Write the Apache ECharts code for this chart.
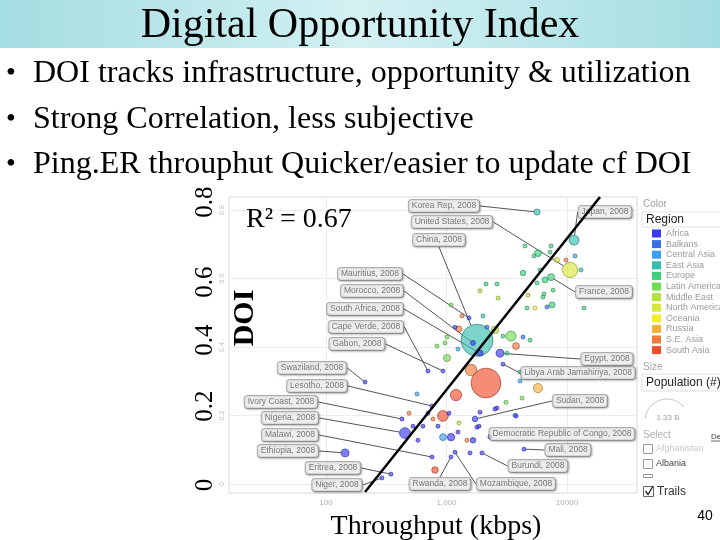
<!DOCTYPE html>
<html><head><meta charset="utf-8">
<script src="https://cdn.jsdelivr.net/npm/echarts@6/dist/echarts.min.js"></script>
<style>html,body{margin:0;padding:0;background:#fff}#c{width:720px;height:540px}</style>
</head><body><div id="c"></div>
<script>
// ---------- data ----------
const regions = ['Africa','Balkans','Central Asia','East Asia','Europe','Latin America','Middle East','North America','Oceania','Russia','S.E. Asia','South Asia'];
// [throughput kbps, DOI, population (millions), label]
const africa = [
  [1538,0.485,1.3,'Mauritius'],[1660,0.412,31,'Morocco'],[1897,0.382,48,'South Africa'],
  [702,0.330,0.5,'Cape Verde'],[935,0.330,1.4,'Gabon'],[211,0.298,1.1,'Swaziland'],
  [758,0.228,2,'Lesotho'],[427,0.190,20,'Ivory Coast'],[452,0.149,151,'Nigeria'],
  [758,0.079,14,'Malawi'],[144,0.091,80,'Ethiopia'],[346,0.029,5,'Eritrea'],[291,0.018,14,'Niger'],
  [2780,0.382,80,'Egypt'],[2944,0.350,6,'Libya Arab Jamahiriya'],[1724,0.190,40,'Sudan'],
  [2296,0.137,10,'Democratic Republic of Congo'],[4395,0.102,12,'Mali'],[1971,0.091,8,'Burundi'],
  [1177,0.093,21,'Mozambique'],[1090,0.079,10,'Rwanda'],
  [1177,0.458,5,''],[702,0.207,4,''],[1049,0.207,4,''],[1897,0.210,4,''],[2625,0.222,4,''],
  [3775,0.199,4,''],[1791,0.166,5,''],[1660,0.128,40,''],[527,0.169,4,''],[638,0.169,4,''],
  [850,0.169,4,''],[1090,0.137,70,''],[1246,0.152,5,''],[1567,0.091,4,''],[580,0.128,4,''],
  [1862,0.169,4,''],[2525,0.219,4,'']
];
const balkans = [[6825,0.517,5,''],[2168,0.458,4,''],[4315,0.429,5,'']];
const centralAsia = [[11650,0.666,7,''],[1246,0.394,4,''],[569,0.263,4,''],[3700,0.201,4,''],[4074,0.301,4,''],[935,0.137,60,'']];
const eastAsia = [[5640,0.794,48,'Korea Rep'],[11430,0.712,127,'Japan'],[1791,0.420,1330,'China'],[13060,0.625,7,''],[2009,0.491,4,''],[4074,0.327,4,'']];
const europe = [
  [7365,0.604,62,'France'],[4480,0.695,5,''],[5745,0.674,60,''],[7365,0.695,5,''],[5320,0.666,5,''],
  [7225,0.677,10,''],[6565,0.596,45,''],[4315,0.616,40,''],[5640,0.587,8,''],[7655,0.566,6,''],
  [6320,0.546,5,''],[7515,0.523,45,''],[4655,0.514,4,''],[13840,0.514,5,''],[2128,0.584,4,''],
  [2625,0.584,4,''],[6440,0.555,5,''],[5970,0.625,4,''],[2944,0.432,5,''],[4932,0.420,5,''],[3177,0.382,5,'']
];
const latinAmerica = [[1090,0.523,5,''],[1009,0.429,5,''],[3430,0.432,130,''],[834,0.403,4,''],[972,0.412,4,''],[1009,0.368,65,''],[3118,0.239,4,''],[4235,0.251,4,'']];
const middleEast = [[1897,0.564,4,''],[2675,0.543,4,''],[4745,0.552,4,''],[2525,0.450,72,''],[1270,0.178,4,'']];
const northAmerica = [[10590,0.625,304,'United States'],[8260,0.654,33,'']];
const oceania = [[5420,0.514,4,'']];
const russia = [[5745,0.280,110,'']];
const seAsia = [[9810,0.654,5,''],[1345,0.491,5,''],[1270,0.453,45,''],[3775,0.403,60,''],[1596,0.333,170,''],[773,0.190,15,''],[489,0.207,5,''],[1479,0.128,4,'']];
const southAsia = [[2128,0.295,1150,''],[1199,0.260,165,''],[935,0.199,150,''],[803,0.041,55,'']];
const fitLine = [[211,-0.023],[18790,0.838]];
const xTickValues = [100,1000,10000];
const xTickLabels = ['100','1,000','10000'];
const yTickValues = [0,0.2,0.4,0.6,0.8];
const yTickLabels = ['0','0.2','0.4','0.6','0.8'];
const bullets = ['DOI tracks infrastructure, opportunity & utilization','Strong Correlation, less subjective','Ping.ER throuphut Quicker/easier to update cf DOI'];

// ---------- layout / style ----------
const regionColors = ['#3a3af2','#3a6ee6','#3a9ff0','#35bdb0','#3ad27c','#70de55','#b2e43a','#d9e63a','#f6ec2e','#f6ae3a','#f27a3a','#ef4e2c'];
const regionData = [africa,balkans,centralAsia,eastAsia,europe,latinAmerica,middleEast,northAmerica,oceania,russia,seAsia,southAsia];
const drawOrder = [11,3,7,10,5,9,6,4,8,2,1,0];
const labelPos = {
  'Korea Rep':[444,206],'United States':[452,222],'China':[439,240],'Japan':[605,212],'France':[604,292],
  'Mauritius':[370,274],'Morocco':[372,291],'South Africa':[365,309],'Cape Verde':[366,327],'Gabon':[357,344],
  'Swaziland':[312,368],'Lesotho':[317,386],'Ivory Coast':[281,402],'Nigeria':[290,418],'Malawi':[290,435],
  'Ethiopia':[288,451],'Eritrea':[333,468],'Niger':[337,485],'Egypt':[607,359],'Libya Arab Jamahiriya':[578,373],
  'Sudan':[580,401],'Democratic Republic of Congo':[562,434],'Mali':[568,450],'Burundi':[538,466],
  'Rwanda':[440,484],'Mozambique':[516,484]
};
const outerY = [485,406,340,282,202];
const SERIF = '"Liberation Serif","Times New Roman",serif';
const SANS = '"Liberation Sans",Arial,sans-serif';

function darken(hex){
  const n = parseInt(hex.slice(1),16);
  const r = Math.round(((n>>16)&255)*0.65), g = Math.round(((n>>8)&255)*0.65), b = Math.round((n&255)*0.65);
  return 'rgb('+r+','+g+','+b+')';
}

const chart = echarts.init(document.getElementById('c'), null, {renderer:'canvas'});

const series = drawOrder.map(i => ({
  type:'scatter', name: regions[i],
  data: regionData[i].slice().sort((a,b)=>b[2]-a[2]).map(d => ({
    name: d[3], value:[d[0],d[1],d[2]], label:{show: !!d[3]}
  })),
  symbolSize: v => Math.max(4, 32*Math.sqrt(v[2]/1330)),
  itemStyle:{color: regionColors[i], opacity:0.65, borderColor: darken(regionColors[i]), borderWidth:1},
  label:{show:false, formatter: p => p.name + ', 2008', fontSize:8.5, fontFamily:SANS, color:'#333',
    backgroundColor:'#fff', borderColor:'#8a8a8a', borderWidth:1, borderRadius:3, padding:[2,3,1,3],
    shadowColor:'rgba(0,0,0,0.3)', shadowBlur:2, shadowOffsetX:1, shadowOffsetY:1},
  labelLine:{show:true, lineStyle:{color:'#555', width:1}},
  labelLayout: p => {
    const pos = labelPos[p.text.replace(', 2008','')];
    return pos ? {x:pos[0], y:pos[1], align:'center', verticalAlign:'middle', hideOverlap:false} : {};
  },
  emphasis:{disabled:true}, silent:true, z:2
}));
series.push({type:'line', name:'fit', data: fitLine, symbol:'none', lineStyle:{color:'#000', width:2.5}, z:10, silent:true});

function txt(x,y,text,font,fill,align,vAlign,rot,z){
  return {type:'text', x:x, y:y, rotation: rot||0, z: z||100,
    style:{text:text, font:font, fill:fill, textAlign:align||'left', align:align||'left',
      textVerticalAlign:vAlign||'middle', verticalAlign:vAlign||'middle'}};
}
const g = [];
g.push({type:'rect', shape:{x:0,y:0,width:720,height:48}, z:1,
  style:{fill:{type:'linear',x:0,y:0,x2:1,y2:0,colorStops:[{offset:0,color:'#a4dde2'},{offset:0.5,color:'#d3f1f3'},{offset:1,color:'#a4dde2'}]}}});
g.push(txt(360,26,'Digital Opportunity Index','42px '+SERIF,'#000','center'));
bullets.forEach((b,k)=>{
  g.push(txt(6,74+k*45.5,'•','28px '+SERIF,'#000','left'));
  g.push(txt(33,74+k*45.5,b,'32px '+SERIF,'#000','left'));
});
yTickLabels.forEach((t,k)=> g.push(txt(205,outerY[k],t,'25px '+SERIF,'#000','center','middle',Math.PI/2)));
g.push(txt(245,318,'DOI','bold 30px '+SERIF,'#000','center','middle',Math.PI/2));
g.push(txt(246,220,'R² = 0.67','28px '+SERIF,'#000','left'));
g.push(txt(436,527,'Throughput (kbps)','28px '+SERIF,'#000','center'));
g.push(txt(705,516,'40','14px '+SANS,'#000','center'));
// right control panel
g.push(txt(643,204,'Color','10px '+SANS,'#a0a0a0','left'));
g.push({type:'rect', shape:{x:642,y:212,width:80,height:15}, z:90, style:{fill:'#fff', stroke:'#e0e0e0'}});
g.push(txt(646,220,'Region','12px '+SANS,'#222','left'));
g.push(txt(643,367,'Size','10px '+SANS,'#a0a0a0','left'));
g.push({type:'rect', shape:{x:642,y:374,width:80,height:17}, z:90, style:{fill:'#fff', stroke:'#e0e0e0'}});
g.push(txt(646,383,'Population (#)','12px '+SANS,'#222','left'));
g.push({type:'arc', shape:{cx:667,cy:421,r:22,startAngle:Math.PI*1.03,endAngle:Math.PI*1.78}, z:90, style:{stroke:'#c8c8c8', fill:null, lineWidth:1}});
g.push(txt(668,418,'1.33 B','8px '+SANS,'#a0a0a0','center'));
g.push(txt(643,435,'Select','10px '+SANS,'#b0b0b0','left'));
g.push(txt(711,437,'De','8px '+SANS,'#444','left'));
g.push({type:'line', shape:{x1:711,y1:441,x2:722,y2:441}, z:90, style:{stroke:'#444', lineWidth:0.8}});
g.push({type:'rect', shape:{x:643.5,y:444.5,width:9,height:9}, z:90, style:{fill:'#fff', stroke:'#999'}});
g.push(txt(656,449,'Afghanistan','9px '+SANS,'#c8c8c8','left'));
g.push({type:'rect', shape:{x:643.5,y:459.5,width:9,height:9}, z:90, style:{fill:'#fff', stroke:'#999'}});
g.push(txt(656,464,'Albania','9px '+SANS,'#444','left'));
g.push({type:'rect', shape:{x:643.5,y:474.5,width:9,height:3}, z:90, style:{fill:'#fff', stroke:'#999'}});
g.push({type:'rect', shape:{x:643.5,y:486.5,width:10,height:10}, z:90, style:{fill:'#fff', stroke:'#666'}});
g.push({type:'polyline', shape:{points:[[645.5,491],[648,494.5],[653,486]]}, z:91, style:{stroke:'#222', lineWidth:1.3, fill:null}});
g.push(txt(657,492,'Trails','12px '+SANS,'#333','left'));

const option = {
  animation:false,
  backgroundColor:'#fff',
  grid:{left:229, top:197, width:408, height:296, show:true, borderColor:'#d8d8d8', borderWidth:1, backgroundColor:'#fff'},
  xAxis:{type:'log', logBase:10, min:15.67, max:38100,
    axisLine:{show:false}, axisTick:{show:false},
    splitLine:{show:true, lineStyle:{color:'#ececec'}},
    axisLabel:{color:'#b0b0b0', fontSize:8, fontFamily:SANS, margin:6, showMinLabel:false, showMaxLabel:false,
      formatter: v => { const i = xTickValues.findIndex(t => Math.abs(t-v)/t < 1e-6); return i<0 ? '' : xTickLabels[i]; }}},
  yAxis:{type:'value', min:-0.026, max:0.838,
    axisLine:{show:false}, axisTick:{show:false},
    splitLine:{show:true, lineStyle:{color:'#ececec'}},
    axisLabel:{rotate:90, color:'#c0c0c0', fontSize:7, fontFamily:SANS, margin:3, showMinLabel:false, showMaxLabel:false,
      formatter: v => { const i = yTickValues.findIndex(t => Math.abs(t-v) < 1e-6); return i<0 ? '' : yTickLabels[i]; }}},
  legend:{data: regions, orient:'vertical', left:647, top:224, itemWidth:9, itemHeight:8, itemGap:1.6,
    icon:'rect', selectedMode:false, itemStyle:{opacity:1, borderWidth:0},
    textStyle:{fontSize:9, lineHeight:9, color:'#9a9a9a', fontFamily:SANS}},
  series: series,
  graphic:{elements:g}
};
chart.setOption(option);
</script></body></html>
